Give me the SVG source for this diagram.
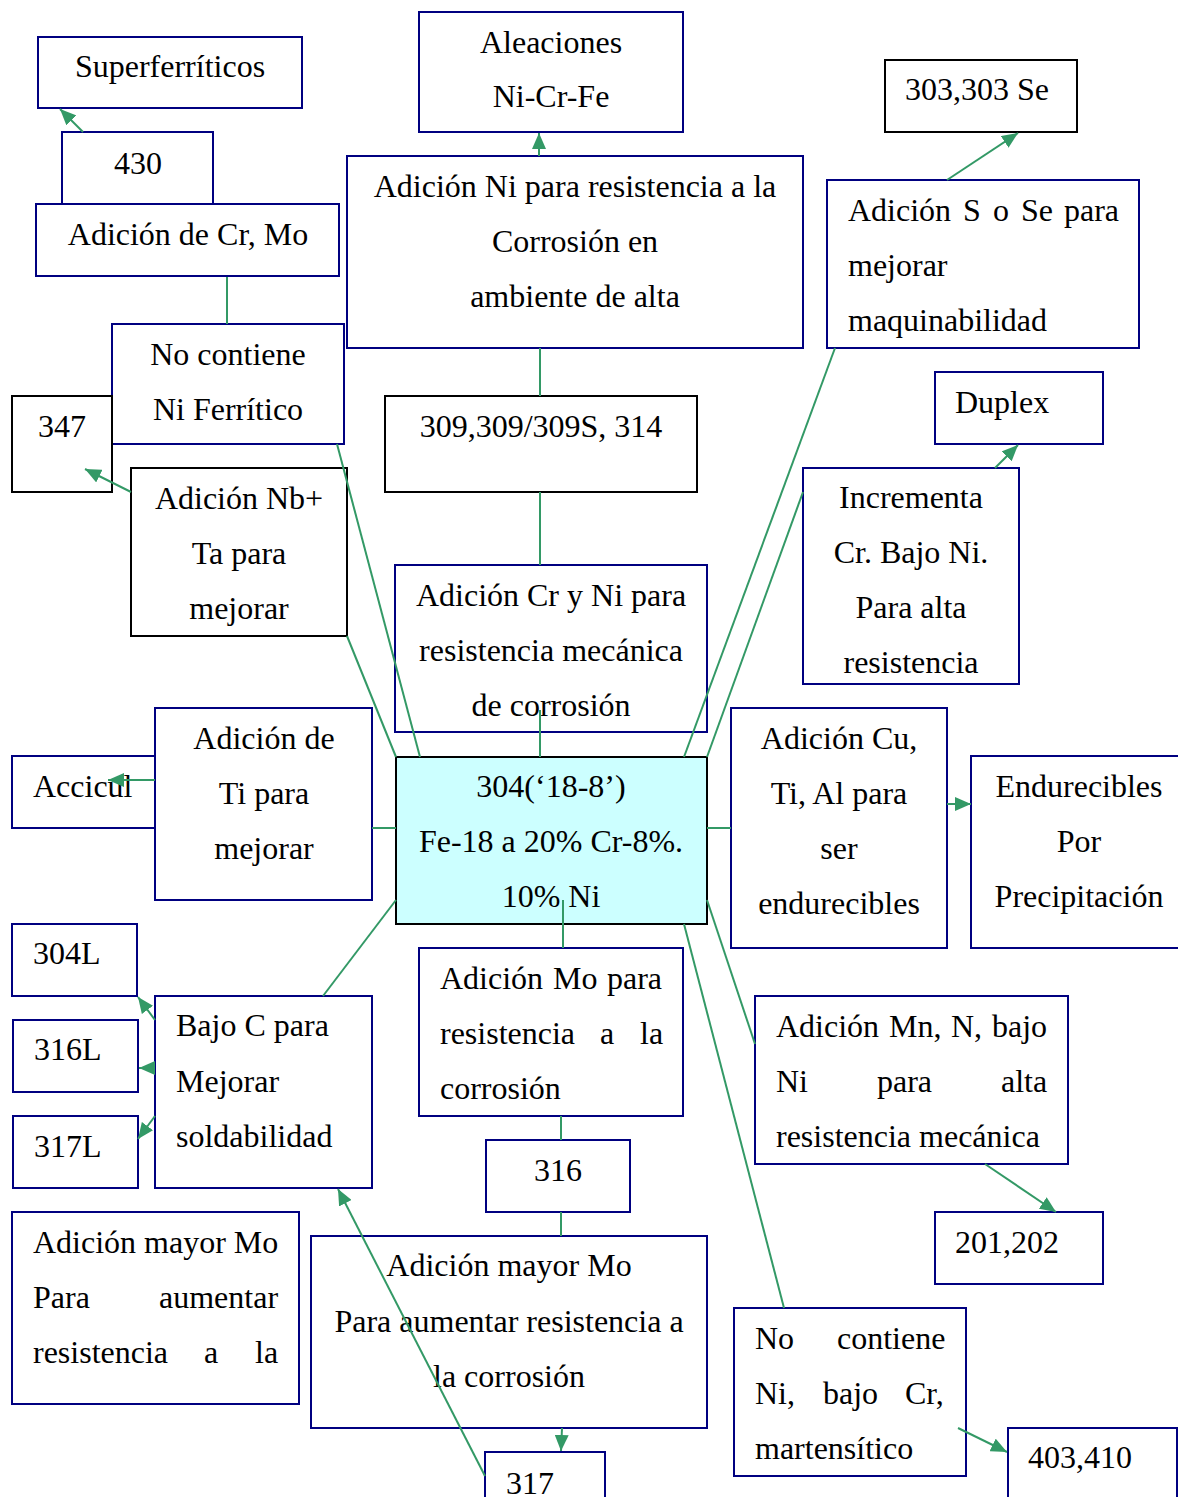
<svg xmlns="http://www.w3.org/2000/svg" width="1178" height="1497" viewBox="0 0 1178 1497">
<style>
.b{fill:#ffffff;stroke:#000080;stroke-width:2}
.k{fill:#ffffff;stroke:#000000;stroke-width:2}
.c{fill:#ccffff;stroke:#000000;stroke-width:2}
text{font-family:"Liberation Serif","Times New Roman",serif;font-size:32px;fill:#000000}
.m{text-anchor:middle}
.ln{stroke:#339966;stroke-width:2;fill:none}
.ar{stroke:#339966;stroke-width:2;fill:none;marker-end:url(#ah)}
</style>
<defs>
<marker id="ah" markerUnits="userSpaceOnUse" markerWidth="17" markerHeight="14" refX="16" refY="7" orient="auto">
<path d="M0,0 L16,7 L0,14 z" fill="#339966"/>
</marker>
</defs>
<rect width="1178" height="1497" fill="#ffffff"/>

<g id="superferriticos"><rect class="b" x="38" y="37" width="264" height="71"/><text class="m" x="170" y="77">Superferríticos</text></g>
<g id="n430"><rect class="b" x="62" y="132" width="151" height="72"/><text class="m" x="138" y="174">430</text></g>
<g id="crmo"><rect class="b" x="36" y="204" width="303" height="72"/><text class="m" x="188" y="245">Adición de Cr, Mo</text></g>
<g id="aleaciones"><rect class="b" x="419" y="12" width="264" height="120"/><text class="m" x="551" y="53">Aleaciones</text><text class="m" x="551" y="107">Ni-Cr-Fe</text></g>
<g id="adicionNi"><rect class="b" x="347" y="156" width="456" height="192"/><text class="m" x="575" y="197">Adición Ni para resistencia a la</text><text class="m" x="575" y="252">Corrosión en</text><text class="m" x="575" y="307">ambiente de alta</text></g>
<g id="n303"><rect class="k" x="885" y="60" width="192" height="72"/><text x="905" y="100">303,303 Se</text></g>
<g id="adicionS"><rect class="b" x="827" y="180" width="312" height="168"/><text y="221"><tspan x="848">Adición</tspan><tspan x="963">S</tspan><tspan x="993">o</tspan><tspan x="1021">Se</tspan><tspan x="1064">para</tspan></text><text x="848" y="276">mejorar</text><text x="848" y="331">maquinabilidad</text></g>
<g id="duplex"><rect class="b" x="935" y="372" width="168" height="72"/><text x="955" y="413">Duplex</text></g>
<g id="noNiFerritico"><rect class="b" x="112" y="324" width="232" height="120"/><text class="m" x="228" y="365">No contiene</text><text class="m" x="228" y="420">Ni Ferrítico</text></g>
<g id="n347"><rect class="k" x="12" y="396" width="100" height="96"/><text x="38" y="437">347</text></g>
<g id="nbta"><rect class="k" x="131" y="468" width="216" height="168"/><text class="m" x="239" y="509">Adición Nb+</text><text class="m" x="239" y="564">Ta para</text><text class="m" x="239" y="619">mejorar</text></g>
<g id="n309"><rect class="k" x="385" y="396" width="312" height="96"/><text class="m" x="541" y="437">309,309/309S, 314</text></g>
<g id="crni"><rect class="b" x="395" y="565" width="312" height="167"/><text class="m" x="551" y="606">Adición Cr y Ni para</text><text class="m" x="551" y="661">resistencia mecánica</text><text class="m" x="551" y="716">de corrosión</text></g>
<g id="incrementa"><rect class="b" x="803" y="468" width="216" height="216"/><text class="m" x="911" y="508">Incrementa</text><text class="m" x="911" y="563">Cr. Bajo Ni.</text><text class="m" x="911" y="618">Para alta</text><text class="m" x="911" y="673">resistencia</text></g>
<g id="accicul"><rect class="b" x="12" y="756" width="143" height="72"/><text x="33" y="797">Accicul</text></g>
<g id="ti"><rect class="b" x="155" y="708" width="217" height="192"/><text class="m" x="264" y="749">Adición de</text><text class="m" x="264" y="804">Ti para</text><text class="m" x="264" y="859">mejorar</text></g>
<g id="n304"><rect class="c" x="396" y="757" width="311" height="167"/><text class="m" x="551" y="797">304(‘18-8’)</text><text class="m" x="551" y="852">Fe-18 a 20% Cr-8%.</text><text class="m" x="551" y="907">10% Ni</text></g>
<g id="cuTiAl"><rect class="b" x="731" y="708" width="216" height="240"/><text class="m" x="839" y="749">Adición Cu,</text><text class="m" x="839" y="804">Ti, Al para</text><text class="m" x="839" y="859">ser</text><text class="m" x="839" y="914">endurecibles</text></g>
<g id="endurecibles"><rect class="b" x="971" y="756" width="230" height="192"/><text class="m" x="1079" y="797">Endurecibles</text><text class="m" x="1079" y="852">Por</text><text class="m" x="1079" y="907">Precipitación</text></g>
<g id="n304L"><rect class="b" x="12" y="924" width="125" height="72"/><text x="33" y="964">304L</text></g>
<g id="n316L"><rect class="b" x="13" y="1020" width="125" height="72"/><text x="34" y="1060">316L</text></g>
<g id="n317L"><rect class="b" x="13" y="1116" width="125" height="72"/><text x="34" y="1157">317L</text></g>
<g id="bajoC"><rect class="b" x="155" y="996" width="217" height="192"/><text x="176" y="1036">Bajo C para</text><text x="176" y="1092">Mejorar</text><text x="176" y="1147">soldabilidad</text></g>
<g id="mo"><rect class="b" x="419" y="948" width="264" height="168"/><text y="989"><tspan x="440">Adición</tspan><tspan x="553">Mo</tspan><tspan x="607">para</tspan></text><text y="1044"><tspan x="440">resistencia</tspan><tspan x="600">a</tspan><tspan x="640">la</tspan></text><text x="440" y="1099">corrosión</text></g>
<g id="mn"><rect class="b" x="755" y="996" width="313" height="168"/><text y="1037"><tspan x="776">Adición</tspan><tspan x="889">Mn,</tspan><tspan x="951">N,</tspan><tspan x="992">bajo</tspan></text><text y="1092"><tspan x="776">Ni</tspan><tspan x="877">para</tspan><tspan x="1001">alta</tspan></text><text x="776" y="1147">resistencia mecánica</text></g>
<g id="n316"><rect class="b" x="486" y="1140" width="144" height="72"/><text class="m" x="558" y="1181">316</text></g>
<g id="n201"><rect class="b" x="935" y="1212" width="168" height="72"/><text x="955" y="1253">201,202</text></g>
<g id="mayorMoLeft"><rect class="b" x="12" y="1212" width="287" height="192"/><text x="33" y="1253">Adición mayor Mo</text><text y="1308"><tspan x="33">Para</tspan><tspan x="159">aumentar</tspan></text><text y="1363"><tspan x="33">resistencia</tspan><tspan x="204">a</tspan><tspan x="255">la</tspan></text></g>
<g id="mayorMoCenter"><rect class="b" x="311" y="1236" width="396" height="192"/><text class="m" x="509" y="1276">Adición mayor Mo</text><text class="m" x="509" y="1332">Para aumentar resistencia a</text><text class="m" x="509" y="1387">la corrosión</text></g>
<g id="martensitico"><rect class="b" x="734" y="1308" width="232" height="168"/><text y="1349"><tspan x="755">No</tspan><tspan x="837">contiene</tspan></text><text y="1404"><tspan x="755">Ni,</tspan><tspan x="823">bajo</tspan><tspan x="905">Cr,</tspan></text><text x="755" y="1459">martensítico</text></g>
<g id="n317"><rect class="b" x="485" y="1452" width="120" height="70"/><text x="506" y="1494">317</text></g>
<g id="n403"><rect class="b" x="1008" y="1428" width="169" height="90"/><text x="1028" y="1468">403,410</text></g>

<g id="connectors">
<line class="ar" x1="83" y1="132" x2="60" y2="109"/>
<line class="ar" x1="539" y1="156" x2="539" y2="133"/>
<line class="ar" x1="947" y1="180" x2="1018" y2="133"/>
<line class="ar" x1="995" y1="468" x2="1018" y2="445"/>
<line class="ar" x1="131" y1="492" x2="85" y2="469"/>
<line class="ar" x1="155" y1="780" x2="108" y2="780"/>
<line class="ar" x1="947" y1="804" x2="971" y2="804"/>
<line class="ar" x1="155" y1="1020" x2="138" y2="997"/>
<line class="ar" x1="155" y1="1068" x2="139" y2="1068"/>
<line class="ar" x1="155" y1="1116" x2="138" y2="1139"/>
<line class="ar" x1="485" y1="1476" x2="338" y2="1189"/>
<line class="ar" x1="562" y1="1428" x2="561" y2="1451"/>
<line class="ar" x1="985" y1="1164" x2="1056" y2="1212"/>
<line class="ar" x1="958" y1="1428" x2="1007" y2="1452"/>
<line class="ln" x1="227" y1="277" x2="227" y2="324"/>
<line class="ln" x1="337" y1="444" x2="420" y2="757"/>
<line class="ln" x1="347" y1="636" x2="396" y2="757"/>
<line class="ln" x1="540" y1="348" x2="540" y2="396"/>
<line class="ln" x1="540" y1="492" x2="540" y2="565"/>
<line class="ln" x1="540" y1="710" x2="540" y2="757"/>
<line class="ln" x1="835" y1="348" x2="684" y2="757"/>
<line class="ln" x1="803" y1="492" x2="707" y2="757"/>
<line class="ln" x1="372" y1="828" x2="396" y2="828"/>
<line class="ln" x1="707" y1="828" x2="731" y2="828"/>
<line class="ln" x1="396" y1="900" x2="323" y2="996"/>
<line class="ln" x1="563" y1="900" x2="563" y2="948"/>
<line class="ln" x1="707" y1="900" x2="755" y2="1044"/>
<line class="ln" x1="684" y1="924" x2="784" y2="1308"/>
<line class="ln" x1="561" y1="1116" x2="561" y2="1140"/>
<line class="ln" x1="561" y1="1212" x2="561" y2="1236"/>
</g>
</svg>
